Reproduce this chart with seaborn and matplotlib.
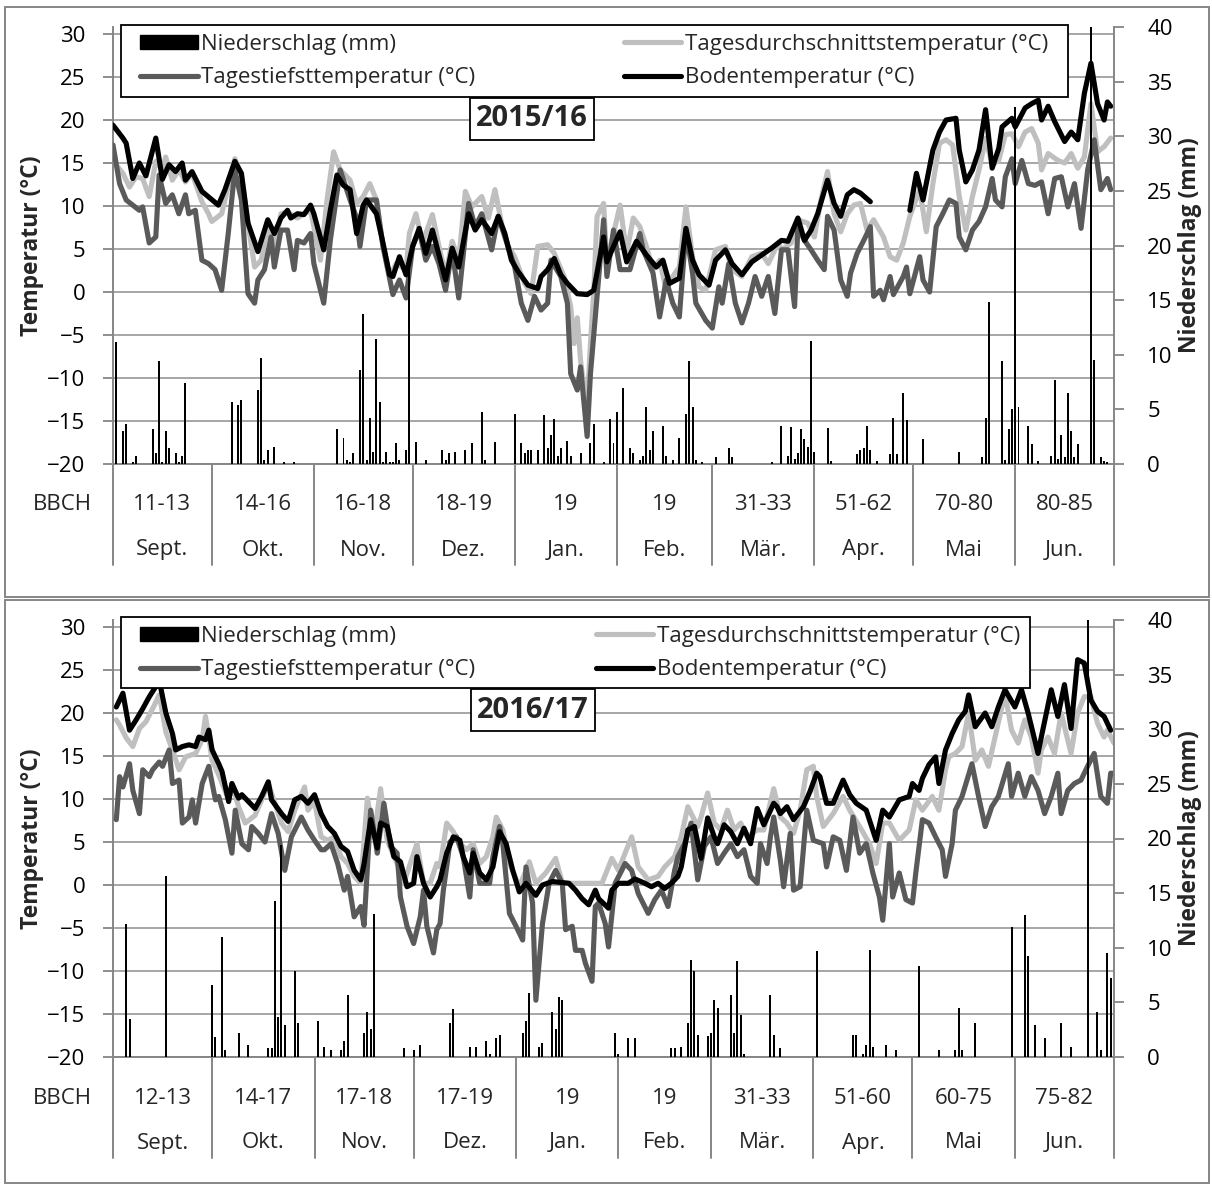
import numpy as np
import pandas as pd
import matplotlib
matplotlib.use("Agg")
import matplotlib.pyplot as plt
import seaborn as sns
from matplotlib.lines import Line2D
from matplotlib.patches import Patch, Rectangle
from matplotlib.transforms import blended_transform_factory

sns.set_theme(style="white")
plt.rcParams["font.family"] = ["Open Sans", "DejaVu Sans"]

# ---------------- data ----------------
months = ["Sept.", "Okt.", "Nov.", "Dez.", "Jan.", "Feb.", "Mär.", "Apr.", "Mai", "Jun."]
month_days_1516 = [30, 31, 30, 31, 31, 29, 31, 30, 31, 30]
month_days_1617 = [30, 31, 30, 31, 31, 28, 31, 30, 31, 30]
bbch_1516 = ["11-13", "14-16", "16-18", "18-19", "19", "19", "31-33", "51-62", "70-80", "80-85"]
bbch_1617 = ["12-13", "14-17", "17-18", "17-19", "19", "19", "31-33", "51-60", "60-75", "75-82"]

# 2015/16 soil temperature (day since 1 Sept, value °C); NaN = missing data
boden_1516_day = [0, 3, 4, 6, 8, 10, 13, 15, 17, 19, 21, 22, 24, 27, 32, 34, 37, 39, 41, 44, 47, 49, 51, 53, 54,
                  56, 58, 60, 61, 64, 66, 68, 70, 72, 74, 76, 77, 80, 82, 84, 85, 87, 89, 91, 93, 95, 97, 99, 101,
                  103, 105, 108, 110, 112, 115, 117, 119, 121, 123, 126, 129, 130, 132, 134, 136, 138, 141, 144,
                  146, 149, 150, 152, 154, 156, 159, 162, 165, 167, 169, 172, 174, 176, 178, 181, 183, 186, 188,
                  191, 194, 197, 200, 203, 205, 208, 210, 212, 214, 217, 219, 221, 223, 225, 227, 230, 236, 242,
                  244, 246, 249, 251, 253, 256, 257, 259, 261, 263, 265, 267, 269, 270, 273, 274, 277, 279, 281,
                  282, 284, 286, 289, 291, 293, 295, 297, 299, 301, 302, 303]
boden_1516_val = [19.4, 17.9, 17.3, 13.2, 15.0, 13.5, 17.9, 13.1, 14.8, 14.0, 15.0, 13.0, 14.0, 11.7, 10.1, 11.9,
                  15.2, 13.8, 8.0, 4.7, 8.4, 6.8, 8.6, 9.5, 8.6, 9.1, 9.0, 10.1, 9.1, 4.9, 9.5, 13.6, 12.4, 11.9,
                  6.8, 10.1, 10.7, 9.1, 5.7, 2.0, 1.8, 4.1, 2.0, 5.3, 7.4, 4.5, 7.2, 4.3, 1.4, 5.1, 2.9, 9.1, 7.2,
                  8.4, 6.8, 8.8, 6.8, 3.7, 2.4, 0.8, 0.4, 1.8, 2.6, 3.9, 2.0, 1.0, -0.2, -0.3, 0.2, 6.4, 3.5, 5.3,
                  7.0, 3.5, 5.9, 4.3, 2.9, 3.7, 1.0, 1.6, 7.4, 3.7, 2.0, 0.8, 3.7, 4.9, 3.3, 2.0, 3.5, 4.3, 5.1,
                  6.0, 5.9, 8.6, 6.0, 7.2, 9.1, 13.0, 10.3, 8.8, 11.3, 11.9, 11.5, 10.5, np.nan, 9.5, 13.8, 10.7,
                  16.5, 18.6, 20.0, 20.2, 16.5, 12.8, 14.2, 16.5, 21.2, 14.4, 16.7, 19.2, 20.2, 19.2, 21.4, 21.9,
                  22.3, 20.0, 21.6, 19.8, 17.5, 18.6, 17.7, 23.1, 26.6, 21.9, 20.0, 22.1, 21.6]

mittel_1516_day = [0, 3, 5, 7, 9, 11, 13, 15, 16, 18, 20, 22, 24, 27, 29, 30, 33, 37, 39, 41, 43, 45, 47, 49, 51,
                   53, 56, 58, 60, 63, 65, 67, 69, 72, 74, 76, 78, 80, 82, 84, 86, 89, 90, 92, 94, 97, 99, 101,
                   103, 105, 107, 109, 112, 114, 116, 118, 120, 122, 125, 127, 129, 132, 134, 137, 139, 140, 141,
                   142, 143, 144, 145, 146, 147, 149, 150, 152, 154, 156, 158, 160, 162, 164, 166, 168, 170, 172,
                   174, 176, 178, 180, 183, 186, 188, 191, 194, 197, 199, 202, 203, 206, 208, 211, 213, 215, 217,
                   219, 221, 223, 225, 227, 229, 231, 234, 236, 238, 240, 242, 245, 247, 249, 251, 253, 255, 257,
                   259, 261, 263, 265, 267, 269, 271, 273, 275, 277, 279, 281, 282, 284, 287, 289, 291, 293, 295,
                   297, 299, 301, 303]
mittel_1516_val = [15.2, 13.8, 12.2, 13.4, 13.2, 11.1, 15.2, 14.2, 15.7, 13.0, 14.2, 12.8, 13.8, 10.5, 9.1, 8.2,
                   9.1, 15.5, 13.6, 8.0, 2.9, 3.7, 7.6, 4.9, 9.1, 9.3, 8.6, 9.1, 9.5, 3.7, 10.7, 16.3, 14.2, 13.0,
                   10.3, 11.1, 12.6, 10.7, 5.3, 1.8, 3.3, 2.6, 6.8, 9.1, 5.7, 9.0, 5.3, 2.0, 5.9, 3.7, 11.7, 9.9,
                   11.1, 8.6, 11.9, 8.0, 5.3, 4.1, 1.0, -0.2, 5.3, 5.5, 4.5, 1.8, -1.7, -6.0, -3.0, -8.0, -11.0,
                   -13.0, -6.0, 0.0, 8.8, 10.3, 3.3, 6.8, 10.1, 4.5, 8.6, 7.6, 5.3, 2.6, 3.7, 0.2, 1.8, 2.9, 9.9,
                   4.1, 0.6, 0.2, 4.9, 5.3, 2.6, 1.8, 4.1, 4.5, 3.3, 5.7, 4.9, 5.7, 8.4, 8.0, 6.4, 10.7, 14.0, 9.1,
                   7.0, 9.1, 10.1, 10.3, 7.2, 8.4, 6.4, 4.1, 3.7, 5.7, 8.8, 11.9, 7.0, 12.6, 17.3, 17.7, 17.1, 11.1,
                   7.2, 11.1, 14.2, 17.9, 14.8, 15.3, 18.3, 18.4, 16.9, 18.6, 19.0, 17.3, 14.2, 16.1, 15.3, 15.0,
                   16.1, 14.4, 15.7, 21.9, 16.3, 16.9, 17.9]

tief_1516_day = [0, 2, 4, 6, 8, 9, 11, 13, 14, 16, 18, 20, 22, 23, 25, 27, 29, 31, 33, 35, 37, 39, 41, 43, 44, 46,
                 48, 49, 51, 53, 55, 56, 58, 60, 61, 64, 66, 69, 70, 72, 74, 75, 77, 80, 82, 85, 87, 89, 91, 93,
                 95, 97, 99, 101, 103, 105, 108, 110, 112, 115, 117, 119, 122, 124, 126, 128, 130, 132, 133, 136,
                 138, 139, 141, 142, 144, 145, 147, 149, 150, 152, 154, 157, 160, 161, 164, 166, 168, 170, 172,
                 174, 176, 177, 180, 182, 184, 185, 187, 189, 191, 193, 195, 197, 199, 201, 203, 205, 207, 208,
                 210, 212, 214, 216, 217, 219, 221, 223, 224, 226, 228, 230, 231, 233, 234, 236, 237, 240, 241,
                 242, 245, 246, 248, 250, 252, 254, 256, 257, 259, 261, 263, 265, 267, 268, 270, 271, 273, 274,
                 276, 278, 280, 282, 284, 286, 288, 290, 292, 294, 296, 298, 300, 302, 303]
tief_1516_val = [17.1, 12.6, 10.7, 10.1, 9.5, 9.9, 5.7, 6.4, 13.6, 10.3, 11.3, 9.1, 11.3, 9.1, 9.5, 3.7, 3.3, 2.6,
                 0.2, 6.8, 14.2, 10.7, -0.2, -1.3, 1.4, 2.6, 6.4, 2.9, 7.2, 7.2, 2.6, 6.0, 5.7, 6.8, 3.3, -1.3,
                 6.0, 14.2, 13.0, 10.7, 8.6, 5.3, 10.7, 10.7, 5.3, -0.3, 1.4, -0.7, 5.3, 7.2, 3.7, 5.3, 3.3, 0.2,
                 4.9, -0.7, 10.3, 7.6, 9.1, 4.9, 8.8, 6.4, 2.9, -1.3, -3.3, -0.5, -2.1, -1.3, 3.7, 1.8, -1.3,
                 -9.5, -11.4, -8.7, -16.8, -9.5, -0.5, 8.4, 1.8, 7.2, 2.6, 2.6, 6.8, 4.9, 2.2, -2.9, 1.4, -1.3,
                 -2.9, 7.2, 2.2, -1.3, -3.3, -4.2, 0.6, -1.3, 3.3, -1.3, -3.6, -1.3, 1.8, -0.5, 1.8, -2.5, 4.9,
                 4.9, -1.7, 7.6, 6.0, 4.9, 3.7, 2.6, 8.8, 7.2, 1.4, -0.5, 2.2, 4.5, 6.0, 7.6, -0.5, 0.2, -0.9,
                 1.8, -0.3, 1.8, 2.9, -0.2, 4.1, 1.4, 0.0, 7.6, 9.1, 10.7, 10.3, 6.4, 4.9, 7.2, 8.2, 9.9, 13.2,
                 10.7, 9.9, 13.4, 15.5, 12.6, 15.3, 12.6, 12.4, 12.8, 9.1, 13.2, 13.4, 9.9, 12.6, 7.4, 14.2, 17.7,
                 11.9, 13.2, 11.9]

regen_1516_day = [1, 3, 4, 6, 7, 12, 13, 14, 15, 16, 17, 19, 20, 21, 22, 36, 38, 39, 44, 45, 46, 47, 49, 52, 55,
                  68, 70, 71, 72, 73, 75, 76, 77, 78, 79, 80, 81, 82, 83, 84, 85, 86, 87, 89, 90, 92, 95, 100,
                  101, 102, 104, 107, 109, 112, 113, 116, 122, 124, 125, 126, 127, 129, 131, 132, 133, 134, 135,
                  136, 138, 139, 142, 145, 146, 149, 151, 152, 153, 155, 157, 158, 160, 161, 162, 163, 164, 167,
                  168, 170, 172, 174, 175, 176, 177, 179, 183, 187, 188, 200, 203, 205, 206, 207, 208, 209, 210,
                  211, 212, 213, 217, 218, 226, 227, 228, 229, 230, 232, 236, 237, 238, 240, 241, 246, 257, 264,
                  265, 266, 270, 271, 272, 273, 274, 275, 278, 279, 281, 285, 286, 287, 288, 289, 290, 291, 292,
                  293, 297, 298, 300, 301, 302]
regen_1516_val = [11.2, 3.0, 3.7, 0.2, 0.7, 3.2, 1.0, 9.4, 0.2, 3.0, 1.5, 1.0, 0.2, 0.7, 7.4, 5.7, 5.4, 5.9, 6.8,
                  9.7, 0.4, 1.3, 1.6, 0.2, 0.2, 3.2, 2.4, 0.4, 0.2, 1.0, 8.6, 13.7, 0.4, 4.2, 1.1, 11.4, 5.7, 0.2,
                  1.1, 0.2, 0.2, 1.9, 0.4, 1.3, 18.4, 2.0, 0.4, 1.3, 0.4, 1.0, 1.1, 1.3, 1.9, 4.8, 0.4, 2.0, 4.6,
                  1.9, 1.0, 1.3, 1.3, 1.3, 4.5, 1.5, 2.7, 4.1, 0.7, 1.5, 2.1, 0.7, 1.0, 1.9, 3.7, 0.2, 4.1, 1.9,
                  4.8, 7.0, 1.5, 1.0, 0.4, 0.7, 5.2, 1.3, 3.0, 3.5, 0.7, 0.4, 2.4, 4.6, 9.4, 5.2, 0.4, 0.2, 0.6,
                  1.5, 0.6, 0.2, 3.5, 0.7, 3.4, 0.5, 1.0, 3.2, 2.3, 1.6, 11.3, 1.1, 3.3, 0.3, 0.9, 1.3, 1.5, 3.5,
                  1.3, 0.3, 0.9, 4.2, 0.9, 6.5, 4.0, 2.3, 1.1, 0.6, 4.2, 14.8, 9.4, 0.4, 3.2, 5.0, 32.7, 5.2, 3.5,
                  1.8, 0.3, 0.7, 7.7, 0.5, 2.7, 0.6, 6.5, 3.0, 0.6, 1.8, 42.0, 9.5, 0.6, 0.3, 0.2]

# 2016/17
boden_1617_day = [1, 3, 5, 7, 9, 11, 13, 14, 16, 18, 19, 21, 23, 25, 26, 28, 29, 30, 32, 33, 35, 36, 38, 39, 41,
                  43, 45, 47, 48, 51, 53, 55, 57, 59, 61, 63, 65, 67, 69, 71, 73, 75, 76, 78, 80, 81, 83, 85, 87,
                  89, 91, 92, 94, 96, 98, 99, 101, 103, 105, 106, 108, 109, 111, 113, 115, 117, 119, 121, 123, 125,
                  128, 130, 133, 138, 140, 142, 144, 146, 147, 150, 151, 153, 156, 158, 161, 163, 165, 167, 169,
                  171, 172, 174, 176, 178, 180, 182, 183, 185, 187, 189, 191, 193, 195, 197, 200, 201, 202, 204,
                  206, 209, 211, 213, 214, 216, 218, 221, 223, 225, 228, 231, 233, 235, 238, 241, 242, 244, 245,
                  247, 249, 250, 252, 254, 256, 258, 259, 261, 264, 266, 268, 270, 273, 275, 277, 280, 281, 284,
                  286, 288, 290, 292, 294, 296, 298, 300, 302]
boden_1617_val = [20.7, 22.3, 18.0, 19.2, 20.5, 21.9, 23.1, 23.8, 20.0, 17.6, 15.7, 16.1, 16.3, 16.1, 17.2, 16.9,
                  18.0, 15.7, 14.1, 13.2, 9.7, 11.8, 10.1, 10.5, 9.7, 8.9, 10.3, 12.0, 9.9, 8.3, 7.4, 9.9, 10.3,
                  9.5, 10.5, 8.3, 6.8, 6.0, 4.5, 3.9, 1.7, 0.6, 2.5, 7.6, 4.3, 7.2, 6.8, 3.3, 2.7, -0.2, 0.2, 3.3,
                  0.2, -1.4, -0.2, 0.6, 3.7, 5.6, 5.2, 3.3, 1.4, 3.7, 1.4, 0.6, 2.1, 6.2, 4.8, 1.7, -0.8, 0.2,
                  -1.2, 0.0, 0.4, 0.2, -0.6, -1.6, -2.3, -0.6, -1.6, -2.7, -0.6, 0.2, 0.2, 0.7, 0.2, -0.2, 0.2,
                  -0.4, 0.2, 1.0, 2.1, 6.4, 6.8, 3.1, 7.8, 5.6, 4.8, 7.0, 6.2, 4.8, 6.6, 4.8, 8.9, 7.0, 9.5, 9.1,
                  8.3, 9.1, 7.6, 9.1, 10.9, 13.0, 12.6, 9.5, 9.5, 12.2, 10.5, 9.5, 8.7, 5.2, 8.7, 7.9, 9.9, 10.3,
                  11.8, 11.0, 12.4, 14.0, 14.9, 11.8, 15.7, 17.6, 19.2, 20.2, 22.1, 18.4, 20.0, 18.4, 20.7, 22.7,
                  20.7, 22.7, 20.0, 15.3, 17.2, 22.7, 19.6, 23.3, 18.2, 26.2, 25.8, 21.5, 20.2, 19.6, 18.0]

mittel_1617_day = [1, 2, 4, 6, 8, 10, 12, 14, 16, 18, 20, 22, 25, 27, 28, 30, 32, 35, 36, 38, 40, 43, 45, 47, 49,
                   51, 53, 55, 58, 59, 61, 63, 65, 67, 69, 71, 73, 75, 77, 79, 81, 83, 86, 88, 90, 92, 94, 96, 98,
                   99, 101, 103, 105, 107, 109, 111, 113, 115, 116, 118, 120, 123, 125, 126, 128, 131, 134, 136,
                   139, 142, 145, 148, 151, 153, 155, 157, 159, 162, 165, 167, 170, 172, 174, 177, 178, 180, 182,
                   184, 186, 188, 190, 192, 195, 197, 200, 202, 204, 206, 208, 210, 212, 213, 215, 218, 221, 223,
                   226, 229, 231, 233, 235, 238, 241, 243, 245, 248, 250, 252, 253, 255, 257, 259, 261, 263, 265,
                   267, 270, 272, 274, 276, 278, 280, 281, 283, 285, 287, 290, 292, 294, 296, 298, 300, 301, 303]
mittel_1617_val = [19.2, 18.6, 17.1, 16.1, 18.2, 19.0, 20.5, 22.1, 17.8, 15.7, 13.4, 14.9, 15.3, 16.9, 19.6, 14.5,
                   12.8, 9.9, 11.8, 9.1, 7.2, 8.1, 9.9, 11.8, 9.5, 7.2, 6.2, 8.7, 11.4, 8.7, 9.7, 5.6, 5.2, 5.6,
                   3.3, 2.5, 1.0, 0.2, 10.1, 5.6, 11.2, 5.2, 2.5, 0.2, 2.5, 4.8, 0.2, 0.2, 2.5, 2.1, 7.2, 6.2,
                   4.8, 4.1, 4.8, 2.5, 3.3, 5.6, 7.9, 6.4, 2.5, -0.2, 1.7, 2.7, 0.2, 1.4, 3.1, 0.2, 0.2, 0.2, 0.2,
                   0.2, 3.1, 1.7, 3.7, 5.6, 2.1, 0.6, 1.0, 2.1, 3.3, 5.6, 9.1, 6.8, 7.9, 10.7, 7.2, 6.4, 8.7, 6.4,
                   7.2, 5.6, 6.4, 6.4, 11.2, 7.9, 7.2, 6.0, 8.7, 13.4, 13.8, 10.3, 6.8, 8.3, 10.3, 8.7, 6.8, 4.8,
                   2.5, 7.2, 7.2, 5.2, 6.4, 9.9, 8.7, 10.3, 8.7, 13.4, 14.9, 15.3, 16.1, 20.0, 14.5, 15.7, 13.8,
                   17.2, 22.3, 18.0, 16.5, 19.2, 17.2, 13.0, 15.7, 17.2, 15.3, 20.0, 15.3, 20.0, 21.9, 21.9, 18.8,
                   17.2, 18.0, 16.5]

tief_1617_day = [1, 2, 3, 5, 6, 8, 9, 11, 12, 14, 15, 17, 18, 20, 21, 23, 24, 25, 27, 29, 31, 32, 34, 36, 37, 39,
                 41, 42, 44, 46, 48, 50, 52, 54, 57, 59, 61, 63, 64, 66, 68, 70, 71, 73, 75, 76, 78, 80, 82, 84,
                 86, 87, 89, 91, 93, 94, 95, 97, 98, 99, 100, 101, 102, 104, 106, 108, 109, 111, 114, 115, 117,
                 118, 120, 122, 124, 125, 127, 128, 130, 132, 134, 136, 137, 139, 140, 142, 143, 145, 146, 147,
                 149, 150, 152, 154, 155, 157, 159, 162, 164, 166, 168, 170, 171, 173, 175, 177, 179, 181, 183,
                 185, 187, 189, 191, 193, 195, 196, 198, 199, 200, 202, 203, 205, 206, 208, 210, 212, 215, 216,
                 218, 220, 222, 224, 226, 228, 230, 232, 233, 235, 236, 238, 240, 242, 243, 245, 247, 249, 251,
                 252, 254, 255, 257, 260, 262, 264, 266, 268, 271, 272, 274, 276, 278, 280, 282, 284, 286, 287,
                 289, 291, 293, 295, 297, 299, 301, 302, 303]
tief_1617_val = [7.6, 12.6, 11.4, 14.1, 11.0, 8.3, 13.4, 12.6, 13.4, 14.3, 13.8, 15.7, 11.8, 12.2, 7.2, 7.9, 9.9,
                 7.2, 11.8, 13.8, 9.9, 10.3, 7.6, 3.7, 8.7, 4.8, 4.1, 6.8, 6.0, 5.0, 8.3, 6.0, 1.7, 5.6, 7.9, 6.4,
                 5.2, 4.1, 4.1, 4.8, 2.5, -0.6, 1.0, -3.7, -2.5, -4.7, 8.7, 3.7, 9.5, 4.5, 3.7, -1.4, -4.8, -6.8,
                 -3.7, -0.6, -4.8, -7.9, -5.2, -4.5, -0.6, 2.1, 5.0, 5.6, 3.3, -1.4, 4.1, 0.2, 0.2, 3.3, 6.8, 4.8,
                 -3.3, -4.8, -6.4, 2.1, -2.1, -13.4, -4.5, 0.2, 1.7, 0.2, -5.2, -4.8, -7.6, -7.6, -9.1, -11.2,
                 -2.5, -2.1, -4.5, -7.2, 0.2, 1.7, 2.5, 1.7, -1.0, -3.3, -1.7, -0.6, -2.5, 1.7, 3.3, 4.8, 7.2,
                 0.6, 4.5, 5.6, 2.5, 3.7, 4.8, 3.3, 4.1, 1.0, 0.2, 4.8, 2.5, 5.6, 7.9, 2.9, -0.2, 6.0, -0.6,
                 -0.2, 8.7, 5.2, 4.8, 2.1, 5.6, 5.2, 1.7, 7.9, 3.7, 4.8, 1.4, -1.4, -4.1, 4.8, -1.4, 1.4, -1.7,
                 -2.1, 1.4, 7.6, 7.2, 5.6, 4.1, 1.0, 4.8, 8.7, 10.3, 14.1, 10.3, 6.8, 9.1, 10.3, 14.1, 10.3,
                 13.0, 10.3, 12.6, 11.0, 8.3, 10.3, 13.0, 8.3, 11.0, 11.8, 12.2, 13.8, 15.3, 10.3, 9.5, 13.0,
                 13.0]

regen_1617_day = [4, 5, 16, 30, 31, 33, 34, 38, 41, 47, 48, 49, 50, 51, 52, 55, 56, 62, 64, 66, 69, 70, 71, 76,
                  77, 78, 79, 88, 91, 93, 102, 103, 108, 110, 113, 114, 116, 117, 124, 125, 126, 129, 130, 133,
                  134, 135, 136, 152, 153, 156, 158, 169, 170, 172, 174, 175, 176, 177, 180, 181, 182, 183, 187,
                  188, 189, 190, 191, 199, 200, 202, 213, 224, 225, 227, 228, 229, 230, 234, 237, 244, 250, 255,
                  256, 257, 261, 272, 276, 277, 279, 282, 287, 290, 295, 298, 299, 301, 302]
regen_1617_val = [12.2, 3.5, 16.6, 6.6, 1.8, 11.0, 0.6, 2.2, 1.1, 0.8, 0.8, 14.3, 3.7, 19.4, 2.9, 7.9, 3.1, 3.3,
                  0.9, 0.6, 0.6, 1.5, 5.7, 2.2, 4.1, 2.6, 13.1, 0.8, 0.6, 1.1, 3.1, 4.4, 0.9, 0.9, 1.5, 0.3, 1.7,
                  2.0, 2.2, 3.3, 5.9, 0.9, 1.3, 4.1, 2.6, 5.5, 5.2, 2.2, 0.3, 1.7, 1.7, 0.8, 0.8, 0.9, 3.1, 8.9,
                  7.9, 2.0, 1.9, 2.2, 5.2, 4.5, 5.7, 2.2, 8.8, 3.8, 0.3, 5.7, 2.0, 0.8, 9.7, 2.0, 2.0, 0.3, 1.1,
                  9.8, 0.9, 1.1, 0.6, 8.3, 0.6, 0.6, 4.5, 0.6, 3.1, 11.9, 13.0, 9.2, 2.9, 1.7, 3.1, 0.9, 41.0,
                  4.1, 0.6, 9.5, 7.2]

# ---------------- style ----------------
W, H = 1212, 1185
LIGHT = "#bfbfbf"
DARK = "#5a5a5a"
GRID = "#a6a6a6"
SPINE = "#868686"
LW = 3.7
FS = 16
LEG_FS = 16
LAB_FS = 16.5
TITLE_FS = 21

labels = ["Niederschlag (mm)", "Tagestiefsttemperatur (°C)",
          "Tagesdurchschnittstemperatur (°C)", "Bodentemperatur (°C)"]

fig = plt.figure(figsize=(W / 100, H / 100), dpi=100)
fig.patch.set_facecolor("white")


def make_df(days, vals):
    v = np.asarray(vals, dtype=float)
    seg = np.cumsum(np.isnan(v))
    df = pd.DataFrame({"day": np.asarray(days, dtype=float), "val": v, "seg": seg})
    return df.dropna()


def panel(top_px, bot_px, frame, season, mdays, bbch, soil, mean, low, rain,
          legend_box, legend_inner, title_xy):
    n = sum(mdays)
    ax = fig.add_axes([113 / W, 1 - bot_px / H, 1001 / W, (bot_px - top_px) / H])
    for (d, v), col, z in [(mean, LIGHT, 2), (low, DARK, 3), (soil, "black", 4)]:
        df = make_df(d, v)
        sns.lineplot(data=df, x="day", y="val", units="seg", estimator=None, sort=False,
                     color=col, lw=LW, ax=ax, zorder=z, legend=False)
    ax.set_xlim(0, n)
    ax.set_ylim(-20, 30 + 7 / 8.6)
    ax.set_yticks(np.arange(-20, 31, 5))
    ax.set_xticks([])
    ax.set_xlabel("")
    ax.set_ylabel("Temperatur (°C)", fontsize=LAB_FS, fontweight="bold")
    ax.yaxis.label.set_va("center")
    ax.yaxis.set_label_coords((32 - 113) / 1001, 0.5)
    ax.yaxis.grid(True, color=GRID, lw=1.4)
    ax.xaxis.grid(False)
    ax.set_axisbelow(True)
    for s in ["top", "right"]:
        ax.spines[s].set_visible(False)
    for s in ["left", "bottom"]:
        ax.spines[s].set_color(SPINE)
        ax.spines[s].set_linewidth(1.4)
    ax.tick_params(axis="y", left=True, direction="out", length=7, width=1.3, color=SPINE,
                   pad=13, labelsize=FS, labelcolor="black")

    ax2 = ax.twinx()
    ax2.bar(rain[0], rain[1], width=0.6, color="black", linewidth=0, zorder=2)
    ax2.set_xlim(0, n)
    ax2.set_ylim(0, 40)
    ax2.set_yticks(np.arange(0, 41, 5))
    for s in ["top", "left", "bottom"]:
        ax2.spines[s].set_visible(False)
    ax2.spines["right"].set_color(SPINE)
    ax2.spines["right"].set_linewidth(1.4)
    ax2.tick_params(axis="y", right=True, direction="out", length=7, width=1.3, color=SPINE,
                    pad=17, labelsize=FS, labelcolor="black")
    ax2.set_ylabel("Niederschlag (mm)", fontsize=LAB_FS, fontweight="bold")
    ax2.yaxis.label.set_va("center")
    ax2.yaxis.set_label_coords((1190 - 113) / 1001, 0.5)
    ax2.grid(False)

    # category axis below: BBCH row + month row + separators
    hpx = bot_px - top_px
    tr = blended_transform_factory(ax.transData, ax.transAxes)
    bounds = np.concatenate([[0], np.cumsum(mdays)])
    for b in bounds:
        ax.plot([b, b], [0, -101 / hpx], transform=tr, color=SPINE, lw=1.4, clip_on=False)
    for i in range(len(mdays)):
        c = (bounds[i] + bounds[i + 1]) / 2
        ax.text(c, -41 / hpx, bbch[i], transform=tr, ha="center", va="center", fontsize=FS)
        ax.text(c, -86 / hpx, months[i], transform=tr, ha="center", va="center", fontsize=FS)
    ax.text((62 - 113) / 1001, -41 / hpx, "BBCH", transform=ax.transAxes, ha="center",
            va="center", fontsize=FS)

    # legend: frame drawn separately so paddings can match
    x0, y0, x1, y1 = legend_box
    box = Rectangle((x0 / W, 1 - y1 / H), (x1 - x0) / W, (y1 - y0) / H,
                    transform=fig.transFigure, fc="white", ec="black", lw=1.3, zorder=9)
    ax2.add_artist(box)
    box.set_clip_on(False)
    handles = [Patch(facecolor="black", edgecolor="black"),
               Line2D([], [], color=DARK, lw=LW),
               Line2D([], [], color=LIGHT, lw=LW),
               Line2D([], [], color="black", lw=LW)]
    ix0, iy0, ix1, iy1 = legend_inner
    leg = ax2.legend(handles, labels, ncol=2, mode="expand", loc="center",
                     bbox_to_anchor=(ix0 / W, 1 - iy1 / H, (ix1 - ix0) / W, (iy1 - iy0) / H),
                     bbox_transform=fig.transFigure, fontsize=LEG_FS, frameon=False,
                     handlelength=2.6, handleheight=0.65, handletextpad=0.15,
                     labelspacing=0.56, borderpad=0, borderaxespad=0, columnspacing=1.0)
    leg.set_zorder(10)

    ax2.text(title_xy[0] / W, 1 - title_xy[1] / H, season, transform=fig.transFigure,
             ha="center", va="center", fontsize=TITLE_FS, fontweight="bold", zorder=11,
             bbox=dict(boxstyle="square,pad=0.22", fc="white", ec="black", lw=1.3))

    fig.add_artist(Rectangle((frame[0] / W, 1 - frame[3] / H), (frame[2] - frame[0]) / W,
                             (frame[3] - frame[1]) / H, transform=fig.transFigure,
                             fill=False, ec=SPINE, lw=1.4))


panel(27, 464, (5, 7, 1209, 597), "2015/16", month_days_1516, bbch_1516,
      (boden_1516_day, boden_1516_val), (mittel_1516_day, mittel_1516_val),
      (tief_1516_day, tief_1516_val), (regen_1516_day, regen_1516_val),
      (121, 25, 1068, 97), (140, 27, 1048, 95), (532, 119))
panel(620, 1057, (5, 600, 1209, 1183), "2016/17", month_days_1617, bbch_1617,
      (boden_1617_day, boden_1617_val), (mittel_1617_day, mittel_1617_val),
      (tief_1617_day, tief_1617_val), (regen_1617_day, regen_1617_val),
      (121, 617, 1030, 688), (140, 618, 1020, 688), (533, 710))

fig.savefig("out.png", dpi=100, facecolor="white")
